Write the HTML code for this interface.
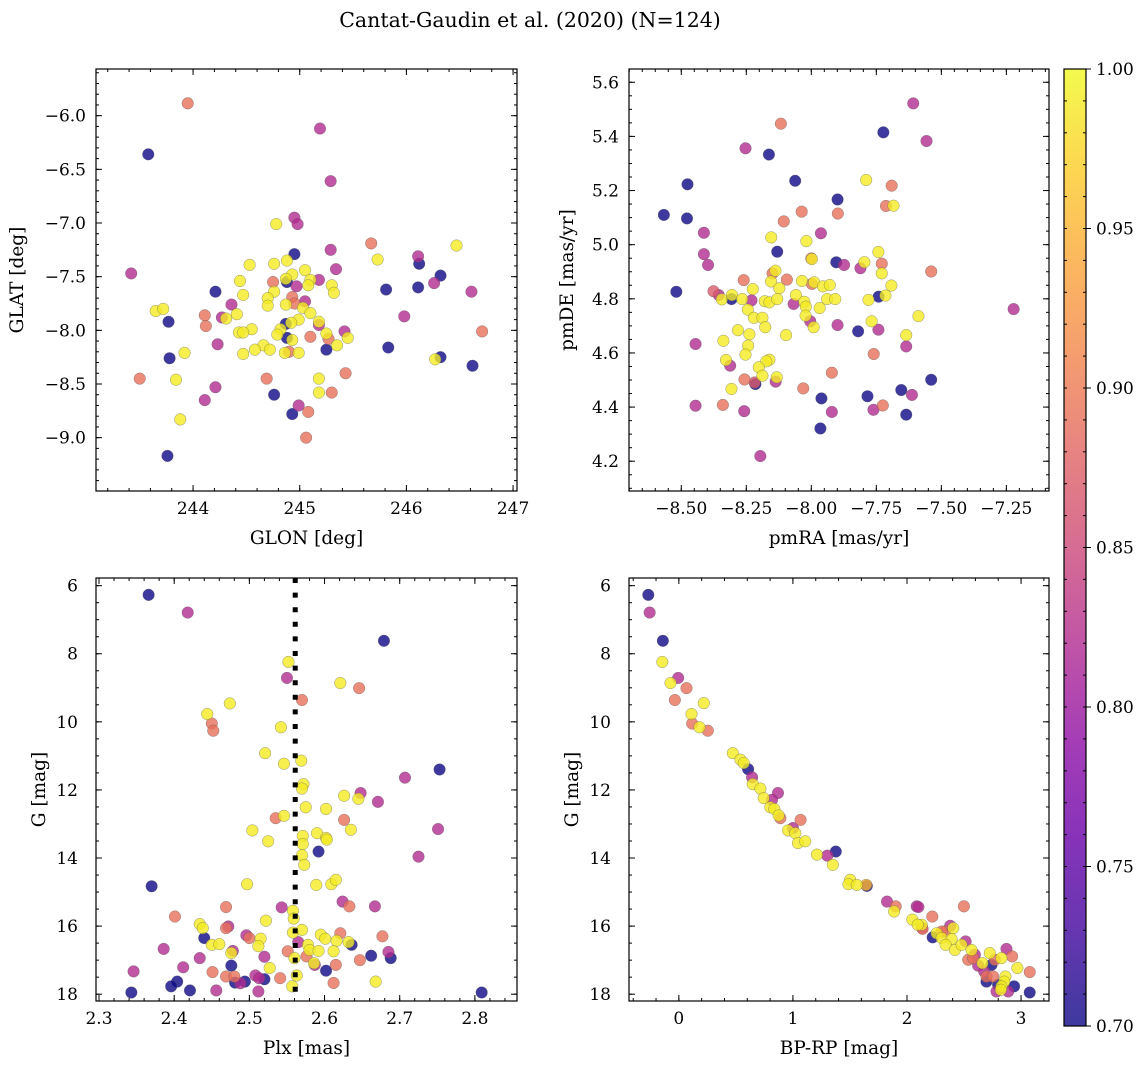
<!DOCTYPE html>
<html><head><meta charset="utf-8">
<style>
html,body{margin:0;padding:0;background:#fff;}
svg{display:block;font-family:"DejaVu Serif","Liberation Serif",serif;}
</style></head>
<body>
<svg id="fig" width="1148" height="1068" viewBox="0 0 1148 1068" xmlns="http://www.w3.org/2000/svg">
<defs>
<linearGradient id="plasma" x1="0" y1="1" x2="0" y2="0">
<stop offset="0" stop-color="#0d0887"/><stop offset="0.1" stop-color="#41049d"/><stop offset="0.2" stop-color="#6a00a8"/><stop offset="0.3" stop-color="#8f0da4"/><stop offset="0.4" stop-color="#b12a90"/><stop offset="0.5" stop-color="#cc4778"/><stop offset="0.6" stop-color="#e16462"/><stop offset="0.7" stop-color="#f2844b"/><stop offset="0.8" stop-color="#fca636"/><stop offset="0.9" stop-color="#fcce25"/><stop offset="1" stop-color="#f0f921"/>
</linearGradient>
</defs>
<text x="530" y="27" font-size="20.5" text-anchor="middle">Cantat-Gaudin et al. (2020) (N=124)</text>
</svg>
<script>
// ---- Panel 1: GLON vs GLAT ----
const p1Glon=[243.95,243.58,245.19,245.29,244.95,244.98,244.78,245.67,246.47,245.29,244.95,245.73,246.11,246.12,244.88,244.53,244.76,245.34,243.42,246.32,245.05,244.93,244.87,245.10,245.18,244.75,244.44,246.26,244.88,244.97,245.08,245.30,245.32,245.81,246.11,244.21,246.61,244.76,244.47,244.93,244.70,245.05,244.70,244.87,244.95,244.36,245.03,243.65,243.72,244.11,244.27,244.31,244.41,245.10,245.98,244.99,243.77,245.18,244.87,244.92,244.12,245.18,244.55,244.82,245.42,246.71,244.43,244.47,244.79,245.25,244.88,244.93,245.10,245.27,245.45,244.23,244.66,244.58,244.72,245.35,245.83,245.25,244.90,244.86,244.99,244.47,243.92,243.78,246.32,246.27,246.62,245.43,243.50,243.84,244.69,245.18,244.21,244.76,245.18,245.30,244.11,244.99,245.08,244.93,243.88,245.06,243.76];
const p1Glat=[-5.885,-6.36,-6.12,-6.61,-6.95,-7.01,-7.01,-7.19,-7.21,-7.25,-7.29,-7.34,-7.31,-7.38,-7.35,-7.39,-7.38,-7.43,-7.47,-7.49,-7.44,-7.48,-7.52,-7.53,-7.53,-7.55,-7.54,-7.56,-7.55,-7.59,-7.58,-7.58,-7.65,-7.62,-7.60,-7.64,-7.64,-7.64,-7.67,-7.69,-7.70,-7.73,-7.77,-7.76,-7.75,-7.76,-7.79,-7.82,-7.80,-7.86,-7.88,-7.89,-7.85,-7.84,-7.87,-7.90,-7.92,-7.92,-7.94,-7.93,-7.96,-7.95,-7.99,-7.99,-8.01,-8.01,-8.02,-8.02,-8.04,-8.03,-8.07,-8.09,-8.06,-8.08,-8.07,-8.13,-8.14,-8.18,-8.18,-8.14,-8.16,-8.18,-8.20,-8.21,-8.21,-8.22,-8.21,-8.26,-8.25,-8.27,-8.33,-8.40,-8.45,-8.46,-8.45,-8.45,-8.53,-8.60,-8.58,-8.58,-8.65,-8.70,-8.76,-8.78,-8.83,-9.00,-9.17];
const p1Prob=[.89,.70,.82,.82,.82,.82,.99,.89,.99,.82,.70,.99,.82,.70,.99,.99,.99,.82,.82,.70,.99,.99,.99,.99,.82,.89,.99,.82,.70,.82,.99,.99,.99,.70,.70,.70,.82,.99,.99,.89,.99,.82,.99,.99,.89,.82,.99,.99,.99,.89,.82,.99,.99,.99,.82,.99,.70,.99,.70,.99,.89,.82,.99,.99,.82,.89,.99,.99,.99,.99,.70,.99,.89,.89,.99,.82,.99,.99,.99,.99,.70,.70,.89,.99,.99,.99,.99,.70,.70,.99,.70,.89,.89,.99,.89,.99,.82,.70,.99,.89,.82,.82,.89,.70,.99,.89,.70];
// ---- Panel 2: pmRA vs pmDE ----
const p2PmRA=[-7.608,-7.723,-7.557,-8.117,-8.253,-8.163,-8.062,-7.789,-7.691,-8.476,-7.899,-7.713,-7.684,-8.567,-8.478,-8.037,-7.898,-8.106,-8.413,-7.963,-8.154,-8.019,-8.413,-8.131,-7.742,-8.397,-8.000,-7.998,-7.904,-7.874,-7.796,-7.811,-7.729,-7.729,-7.539,-8.138,-8.149,-8.260,-8.155,-8.094,-8.036,-7.989,-7.998,-7.955,-7.929,-7.692,-8.519,-8.376,-8.356,-8.344,-8.307,-8.305,-8.225,-8.123,-8.266,-8.230,-8.179,-8.161,-8.131,-8.059,-8.068,-8.027,-8.021,-7.939,-7.908,-7.741,-7.715,-7.780,-7.968,-8.244,-8.221,-8.188,-8.177,-8.022,-8.004,-7.991,-7.588,-7.768,-7.899,-7.820,-7.742,-7.222,-8.282,-8.238,-8.097,-7.635,-8.445,-8.338,-8.243,-7.635,-8.253,-7.760,-8.328,-8.312,-8.161,-8.173,-8.202,-7.921,-8.188,-8.257,-8.215,-8.218,-8.137,-8.133,-7.539,-8.307,-8.031,-7.961,-7.784,-7.654,-7.613,-8.445,-8.340,-8.258,-7.921,-7.761,-7.725,-7.635,-7.965,-8.196];
const p2PmDE=[5.522,5.415,5.383,5.447,5.356,5.333,5.236,5.239,5.218,5.223,5.167,5.143,5.144,5.110,5.097,5.122,5.115,5.086,5.044,5.042,5.027,5.013,4.965,4.974,4.973,4.925,4.949,4.947,4.935,4.925,4.935,4.913,4.930,4.894,4.901,4.904,4.894,4.869,4.864,4.871,4.866,4.861,4.855,4.846,4.851,4.849,4.826,4.828,4.814,4.798,4.799,4.814,4.836,4.839,4.799,4.794,4.791,4.787,4.799,4.814,4.781,4.789,4.771,4.799,4.799,4.808,4.812,4.796,4.766,4.760,4.730,4.730,4.695,4.738,4.717,4.695,4.736,4.717,4.703,4.680,4.686,4.762,4.684,4.669,4.666,4.666,4.633,4.645,4.627,4.624,4.594,4.596,4.574,4.553,4.575,4.569,4.547,4.527,4.516,4.502,4.485,4.491,4.494,4.510,4.501,4.467,4.469,4.432,4.440,4.463,4.445,4.405,4.408,4.385,4.382,4.390,4.406,4.372,4.321,4.219];
const p2Prob=[.82,.70,.82,.89,.82,.70,.70,.99,.89,.70,.70,.89,.99,.70,.70,.89,.89,.89,.82,.82,.99,.99,.82,.70,.99,.82,.89,.99,.70,.82,.99,.82,.89,.99,.89,.99,.89,.89,.99,.89,.99,.99,.89,.99,.99,.99,.70,.87,.82,.99,.70,.99,.99,.99,.99,.82,.99,.99,.99,.99,.82,.99,.99,.99,.99,.70,.99,.99,.99,.99,.99,.99,.99,.99,.82,.99,.99,.99,.82,.70,.82,.82,.99,.99,.99,.99,.82,.99,.99,.82,.99,.89,.99,.82,.99,.99,.99,.89,.99,.89,.70,.87,.82,.99,.70,.99,.89,.70,.70,.70,.82,.82,.89,.82,.82,.82,.89,.70,.70,.82];
// ---- Panel 3: Plx vs G ----
const p3Plx=[2.366,2.418,2.679,2.552,2.550,2.621,2.646,2.570,2.474,2.444,2.450,2.452,2.542,2.521,2.546,2.569,2.753,2.707,2.572,2.570,2.648,2.626,2.645,2.671,2.575,2.602,2.535,2.546,2.626,2.504,2.635,2.751,2.525,2.571,2.590,2.602,2.603,2.571,2.570,2.592,2.573,2.725,2.370,2.497,2.589,2.609,2.615,2.624,2.633,2.667,2.543,2.469,2.401,2.558,2.559,2.522,2.434,2.438,2.472,2.469,2.558,2.570,2.621,2.677,2.595,2.601,2.616,2.632,2.636,2.440,2.496,2.500,2.515,2.450,2.460,2.512,2.565,2.578,2.580,2.592,2.612,2.478,2.476,2.386,2.434,2.520,2.551,2.560,2.576,2.586,2.587,2.615,2.647,2.662,2.685,2.688,2.346,2.412,2.476,2.527,2.602,2.451,2.469,2.480,2.481,2.488,2.494,2.508,2.513,2.520,2.541,2.563,2.557,2.612,2.668,2.404,2.396,2.421,2.343,2.456,2.512,2.809];
const p3G=[6.27,6.79,7.62,8.24,8.71,8.86,9.01,9.36,9.46,9.77,10.05,10.26,10.16,10.92,11.23,11.14,11.40,11.64,11.83,11.96,12.09,12.17,12.26,12.35,12.51,12.56,12.83,12.76,12.88,13.19,13.17,13.15,13.51,13.35,13.27,13.41,13.46,13.59,13.92,13.81,14.20,13.96,14.83,14.77,14.79,14.77,14.64,15.28,15.42,15.42,15.45,15.44,15.72,15.55,15.78,15.84,15.94,16.06,16.01,16.06,16.19,16.11,16.21,16.30,16.25,16.37,16.43,16.47,16.55,16.35,16.27,16.35,16.37,16.55,16.53,16.59,16.47,16.55,16.70,16.73,16.74,16.73,16.79,16.67,16.94,16.90,16.74,16.94,16.89,17.09,17.14,17.14,17.00,16.87,16.76,16.94,17.33,17.21,17.16,17.23,17.31,17.35,17.48,17.48,17.66,17.68,17.63,17.45,17.53,17.56,17.53,17.45,17.77,17.67,17.63,17.63,17.77,17.89,17.95,17.89,17.92,17.95];
const p3Prob=[.70,.82,.70,.99,.82,.99,.89,.89,.99,.99,.89,.89,.99,.99,.99,.99,.70,.82,.99,.99,.82,.99,.99,.82,.99,.99,.89,.99,.89,.99,.99,.82,.99,.99,.99,.99,.99,.99,.99,.70,.99,.82,.70,.99,.99,.99,.99,.82,.89,.82,.82,.89,.89,.99,.99,.99,.99,.99,.82,.89,.99,.99,.89,.89,.99,.99,.99,.99,.70,.70,.82,.89,.99,.99,.99,.99,.82,.99,.99,.99,.99,.82,.99,.82,.82,.82,.89,.99,.89,.99,.82,.89,.89,.70,.82,.70,.82,.82,.70,.99,.70,.89,.89,.89,.70,.82,.70,.82,.82,.70,.89,.99,.99,.89,.99,.70,.70,.70,.70,.82,.82,.70];
// ---- Panel 4: BP-RP vs G ----
const p4BpRp=[-0.268,-0.256,-0.140,-0.145,-0.006,-0.073,0.067,-0.035,0.219,0.111,0.117,0.181,0.254,0.473,0.540,0.569,0.607,0.642,0.648,0.715,0.869,0.744,0.817,0.802,0.837,0.875,0.890,1.067,0.957,1.000,1.021,1.044,1.108,1.210,1.301,1.376,1.350,1.502,1.487,1.560,1.648,1.642,1.825,1.901,1.887,2.085,2.100,2.222,2.499,2.047,2.129,2.137,2.225,2.260,2.304,2.333,2.379,2.406,2.391,2.339,2.420,2.514,2.478,2.566,2.537,2.595,2.624,2.662,2.726,2.741,2.770,2.828,2.872,2.922,2.968,3.076,2.697,2.755,2.697,2.799,2.863,2.852,2.828,2.785,2.887,2.939,3.076,2.677,2.580,2.304,2.134,2.094,2.823];
const p4G=[6.27,6.79,7.62,8.24,8.71,8.86,9.01,9.36,9.45,9.77,10.05,10.16,10.26,10.92,11.11,11.21,11.39,11.63,11.83,11.96,12.09,12.24,12.29,12.51,12.56,12.75,12.83,12.88,13.19,13.12,13.27,13.56,13.51,13.90,13.93,13.81,14.20,14.64,14.77,14.79,14.82,14.79,15.28,15.42,15.57,15.42,15.44,15.72,15.42,15.81,15.96,16.08,16.33,16.21,16.35,16.16,15.99,16.06,16.38,16.55,16.70,16.45,16.55,16.70,16.99,16.84,17.16,17.09,16.79,17.14,16.99,16.94,16.67,16.89,17.23,17.35,17.48,17.48,17.63,17.72,17.48,17.63,17.77,17.92,17.92,17.77,17.95,17.33,16.94,16.16,16.06,15.96,17.87];
const p4Prob=[.70,.82,.70,.99,.82,.99,.89,.89,.99,.99,.89,.99,.89,.99,.99,.99,.70,.82,.99,.99,.82,.99,.82,.99,.99,.99,.89,.89,.99,.82,.99,.99,.99,.99,.82,.70,.99,.99,.99,.99,.70,.95,.82,.89,.99,.82,.82,.89,.89,.99,.99,.89,.70,.99,.99,.89,.82,.99,.99,.99,.99,.82,.99,.99,.89,.82,.82,.99,.99,.70,.89,.99,.82,.89,.99,.89,.89,.89,.70,.70,.99,.99,.99,.82,.82,.70,.70,.82,.89,.89,.82,.99,.99];
// ---- Colorbar ticks ----
const cbTicks=[0.70,0.75,0.80,0.85,0.90,0.95,1.00];
const plxRef=[2.561];

const NS="http://www.w3.org/2000/svg";
const svg=document.getElementById('fig');
const TICK_FS=17, LAB_FS=18.5;
function mk(tag,attrs,parent){const e=document.createElementNS(NS,tag);for(const k in attrs)e.setAttribute(k,attrs[k]);(parent||svg).appendChild(e);return e;}
const stops=[[13,8,135],[65,4,157],[106,0,168],[143,13,164],[177,42,144],[204,71,120],[225,100,98],[242,132,75],[252,166,54],[252,206,37],[240,249,33]];
function plasma(p){let t=(p-0.7)/0.3;t=Math.max(0,Math.min(1,t))*10;const i=Math.min(9,Math.floor(t)),f=t-i;const a=stops[i],b=stops[i+1];return 'rgb('+[0,1,2].map(k=>Math.round(a[k]+(b[k]-a[k])*f)).join(',')+')';}
function fmt(v,d){const s=Math.abs(v).toFixed(d);return (v<-1e-9?'\u2212':'')+s;}

function panel(c){
  const g=mk('g',{});
  
  
  const sx=v=>c.L+(v-c.xmin)/(c.xmax-c.xmin)*(c.R-c.L);
  const sy=c.inv?(v=>c.T+(v-c.ymin)/(c.ymax-c.ymin)*(c.B-c.T)):(v=>c.B-(v-c.ymin)/(c.ymax-c.ymin)*(c.B-c.T));
  const idx=c.xs.map((_,i)=>i).sort((a,b)=>c.ps[a]-c.ps[b]);
  const pg=mk('g',{},g);
  
  
  idx.forEach(i=>{
    const cx=sx(c.xs[i]),cy=sy(c.ys[i]);
    const e=mk('circle',{cx:cx,cy:cy,r:5.8,fill:plasma(c.ps[i]),'fill-opacity':0.8,stroke:'#555','stroke-opacity':0.6,'stroke-width':0.5},pg);
    
    
  });
  if(c.vline){const ln2=mk('line',{x1:sx(c.vline[0]),x2:sx(c.vline[0]),y1:c.T,y2:c.B,stroke:'#000','stroke-width':5,'stroke-dasharray':'5 9.6'},g);
    
    }
  const tk=mk('g',{stroke:'#000','stroke-width':1},g);
  
  
  const eps=1e-6;
  for(let v=Math.ceil(c.xmin/c.xmn-eps)*c.xmn;v<=c.xmax+eps;v+=c.xmn){const x=sx(v);mk('line',{x1:x,x2:x,y1:c.B,y2:c.B-3},tk);mk('line',{x1:x,x2:x,y1:c.T,y2:c.T+3},tk);}
  for(let v=Math.ceil(c.ymin/c.ymn-eps)*c.ymn;v<=c.ymax+eps;v+=c.ymn){const y=sy(v);mk('line',{x1:c.L,x2:c.L+3,y1:y,y2:y},tk);mk('line',{x1:c.R,x2:c.R-3,y1:y,y2:y},tk);}
  c.xt.forEach(v=>{const x=sx(v);mk('line',{x1:x,x2:x,y1:c.B,y2:c.B-6},tk);mk('line',{x1:x,x2:x,y1:c.T,y2:c.T+6},tk);
    const t=mk('text',{x:x,y:c.B+23,'font-size':TICK_FS,'text-anchor':'middle'},g);t.textContent=fmt(v,c.xd);
    
    });
  c.yt.forEach(v=>{const y=sy(v);mk('line',{x1:c.L,x2:c.L+6,y1:y,y2:y},tk);mk('line',{x1:c.R,x2:c.R-6,y1:y,y2:y},tk);
    const t=mk('text',{x:c.L-c.ylo,y:y+6,'font-size':TICK_FS,'text-anchor':'end'},g);t.textContent=fmt(v,c.yd);
    
    });
  const fr=mk('rect',{x:c.L,y:c.T,width:c.R-c.L,height:c.B-c.T,fill:'none',stroke:'#000','stroke-width':1.2},g);
  
  
  const xl=mk('text',{x:(c.L+c.R)/2,y:c.B+53,'font-size':LAB_FS,'text-anchor':'middle'},g);xl.textContent=c.xlab;
  
  
  const yx=c.yx,yy=(c.T+c.B)/2;
  const yl=mk('text',{x:yx,y:yy,'font-size':LAB_FS,'text-anchor':'middle',transform:'rotate(-90 '+yx+' '+yy+')'},g);yl.textContent=c.ylab;
  
  
}
function range(a,b,s){const r=[];for(let v=a;v<=b+1e-9;v+=s)r.push(Math.round(v*1000)/1000);return r;}

panel({name:'panel-glon-glat',L:96,R:517,T:69,B:491,xmin:243.09,xmax:247.037,ymin:-9.497,ymax:-5.565,inv:false,
  xs:p1Glon,ys:p1Glat,ps:p1Prob,xt:[244,245,246,247],xd:0,yt:range(-9,-6,0.5),yd:1,xmn:0.2,ymn:0.1,ylo:10,yx:23,xlab:'GLON [deg]',ylab:'GLAT [deg]'});
panel({name:'panel-pmra-pmde',L:629,R:1049,T:69,B:491,xmin:-8.701,xmax:-7.086,ymin:4.090,ymax:5.649,inv:false,
  xs:p2PmRA,ys:p2PmDE,ps:p2Prob,xt:range(-8.5,-7.25,0.25),xd:2,yt:range(4.2,5.6,0.2),yd:1,xmn:0.05,ymn:0.05,ylo:10,yx:573,xlab:'pmRA [mas/yr]',ylab:'pmDE [mas/yr]'});
panel({name:'panel-plx-g',L:96,R:517,T:578,B:1001,xmin:2.296,xmax:2.856,ymin:5.775,ymax:18.20,inv:true,vline:plxRef,
  xs:p3Plx,ys:p3G,ps:p3Prob,xt:range(2.3,2.8,0.1),xd:1,yt:range(6,18,2),yd:0,xmn:0.02,ymn:0.5,ylo:18,yx:45,xlab:'Plx [mas]',ylab:'G [mag]'});
panel({name:'panel-bprp-g',L:629,R:1049,T:578,B:1001,xmin:-0.437,xmax:3.245,ymin:5.775,ymax:18.20,inv:true,
  xs:p4BpRp,ys:p4G,ps:p4Prob,xt:[0,1,2,3],xd:0,yt:range(6,18,2),yd:0,xmn:0.2,ymn:0.5,ylo:18,yx:578,xlab:'BP-RP [mag]',ylab:'G [mag]'});

(function(){
  const L=1064,R=1086,T=69,B=1026;
  const g=mk('g',{});
  
  
  mk('rect',{x:L,y:T,width:R-L,height:B-T,fill:'url(#plasma)','fill-opacity':0.8},g);
  const sy=v=>B-(v-0.7)/0.3*(B-T);
  for(let k=70;k<=100;k++){const y=sy(k/100);mk('line',{x1:R,x2:R-3,y1:y,y2:y,stroke:'#000','stroke-width':1},g);mk('line',{x1:L,x2:L+3,y1:y,y2:y,stroke:'#000','stroke-width':1},g);}
  cbTicks.forEach(v=>{const y=sy(v);mk('line',{x1:R,x2:R+5,y1:y,y2:y,stroke:'#000','stroke-width':1},g);
    const t=mk('text',{x:R+10,y:y+6,'font-size':TICK_FS},g);t.textContent=v.toFixed(2);
    
    });
  mk('rect',{x:L,y:T,width:R-L,height:B-T,fill:'none',stroke:'#000','stroke-width':1.2},g);
})();
</script>
</body></html>
